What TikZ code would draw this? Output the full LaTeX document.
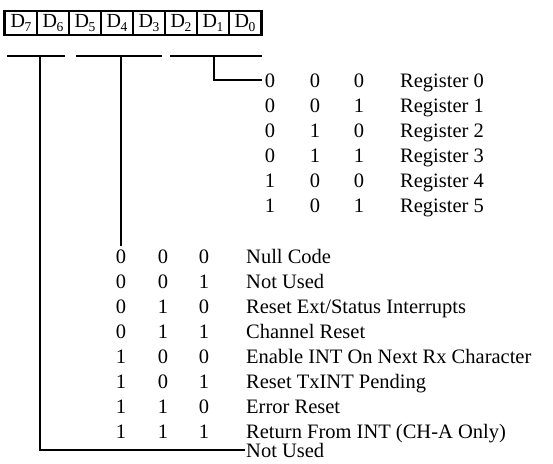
\documentclass[tikz,border=0pt]{standalone}
\usepackage{fontspec}
\setmainfont{Liberation Serif}
\usetikzlibrary{calc}

\newcommand\dbit[1]{D\kern-0.5pt\raisebox{-0.22em}{\fontsize{13.5}{14}\selectfont #1}}

\begin{document}
\begin{tikzpicture}[x=1pt, y=-1pt,
  cell/.style={draw, line width=1.1pt, minimum width=32pt, minimum height=23pt,
    inner sep=0pt, font=\fontsize{20}{20}\selectfont},
  bit/.style={inner sep=0pt, text height=14pt, text depth=0pt,
    font=\fontsize{20.5}{24}\selectfont},
  lbl/.style={bit, anchor=west},
  wire/.style={line width=1.3pt}]
  \useasboundingbox (0,0) rectangle (553,463);

  % Register cells
  \foreach \b [count=\k from 0] in {7,...,0}
    \node[cell] (d\b) at (21+32*\k, 23) {\dbit{\b}};
  \draw[line width=2.6pt] (d7.north west) rectangle (d0.south east);

  % Field markers
  \draw[wire, line width=1.5pt] (7,56) -- (65,56);
  \draw[wire, line width=1.5pt] (76,56) -- (162,56);
  \draw[wire, line width=1.5pt] (170,56) -- (262,56);
  \coordinate (f76) at (40,56);
  \coordinate (f543) at (121,56);
  \coordinate (f210) at (214,56);

  % Register select codes
  \foreach \a/\b/\c/\t [count=\r from 0] in {0/0/0/{Register 0}, 0/0/1/{Register 1},
      0/1/0/{Register 2}, 0/1/1/{Register 3}, 1/0/0/{Register 4}, 1/0/1/{Register 5}} {
    \node[bit] (sa\r) at (270, 80+25*\r) {\a};
    \node[bit] (sb\r) at (315, 80+25*\r) {\b};
    \node[bit] (sc\r) at (359, 80+25*\r) {\c};
    \node[lbl] (st\r) at (400, 80+25*\r) {\t};
  }

  % Command codes
  \foreach \a/\b/\c/\t [count=\r from 0] in {0/0/0/{Null Code}, 0/0/1/{Not Used},
      0/1/0/{Reset Ext/Status Interrupts}, 0/1/1/{Channel Reset},
      1/0/0/{Enable INT On Next Rx Character}, 1/0/1/{Reset TxINT Pending},
      1/1/0/{Error Reset}, 1/1/1/{Return From INT (CH-A Only)}} {
    \node[bit] (ca\r) at (121, 256+25*\r) {\a};
    \node[bit] (cb\r) at (163, 256+25*\r) {\b};
    \node[bit] (cc\r) at (204, 256+25*\r) {\c};
    \node[lbl] (ct\r) at (246, 256+25*\r) {\t};
  }
  \node[lbl] (nu) at (246, 450) {Not Used};

  % Connectors
  \draw[wire, shorten >=3pt] (f210) |- (sa0.west);
  \draw[wire, shorten >=3pt] (f543) -- (ca0.north);
  \draw[wire, shorten >=1pt] (f76) |- (nu.west);
\end{tikzpicture}
\end{document}
